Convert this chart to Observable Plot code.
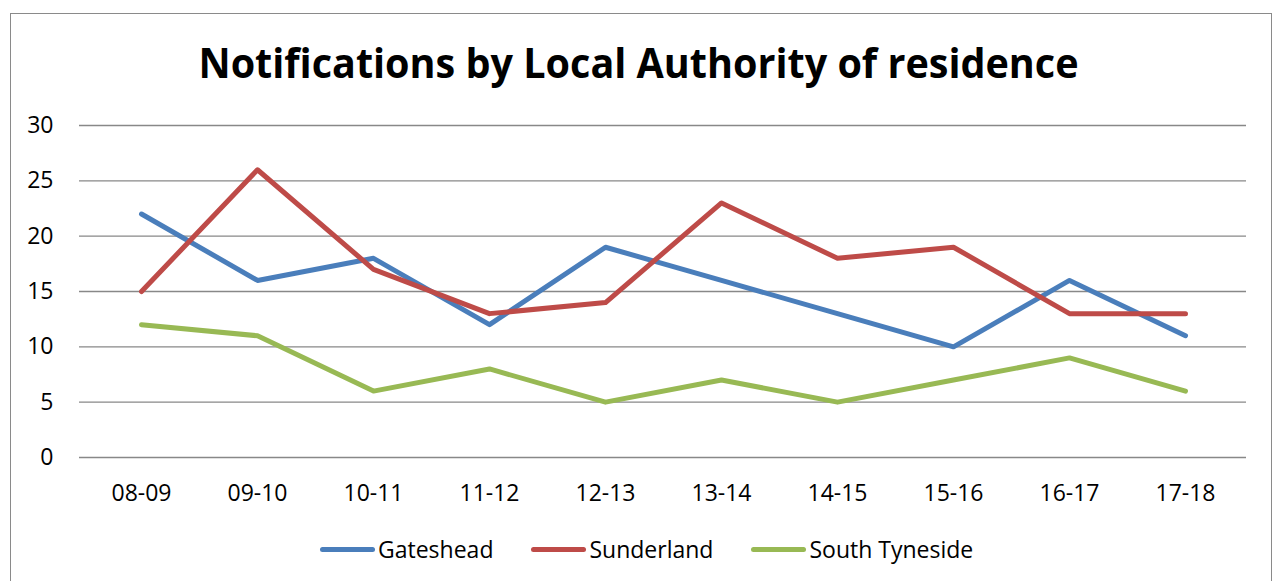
<!DOCTYPE html>
<html>
<head>
<meta charset="utf-8">
<script src="https://cdn.jsdelivr.net/npm/d3@7"></script>
<script src="https://cdn.jsdelivr.net/npm/@observablehq/plot@0.6"></script>
<style>
  html, body { margin: 0; padding: 0; background: #fff; overflow: hidden; }
  #wrap { position: relative; width: 1276px; height: 581px; font-family: "Open Sans", sans-serif; }
  #frame { position: absolute; left: 10px; top: 13px; width: 1262px; height: 620px; border: 1.5px solid #8a8a8a; box-sizing: border-box; }
  #chart { position: absolute; left: 0; top: 0; }
  #title { position: absolute; left: 0; width: 1276px; top: 41px; text-align: center; font-weight: 700; font-size: 42px; line-height: 1; color: #000; white-space: nowrap; }
  #title span { display: inline-block; transform-origin: center; }
  #legend { position: absolute; left: 320px; top: 533px; display: flex; align-items: center; font-size: 23px; color: #000; }
  .item { display: flex; align-items: center; margin-right: 38px; }
  .sw { width: 55px; height: 5px; border-radius: 3px; margin-right: 3px; }
</style>
</head>
<body>
<div id="wrap">
  <div id="frame"></div>
  <div id="chart"></div>
  <div id="title"><span>Notifications by Local Authority of residence</span></div>
  <div id="legend"></div>
</div>
<script>
const periods = ["08-09","09-10","10-11","11-12","12-13","13-14","14-15","15-16","16-17","17-18"];
const seriesNames = ["Gateshead","Sunderland","South Tyneside"];
const gateshead = [22,16,18,12,19,16,13,10,16,11];
const sunderland = [15,26,17,13,14,23,18,19,13,13];
const southTyneside = [12,11,6,8,5,7,5,7,9,6];
const yTicks = [0,5,10,15,20,25,30];
const colors = ["#4a7ebb","#be4b48","#98b954"];

const valuesBySeries = [gateshead, sunderland, southTyneside];
const data = [];
seriesNames.forEach((s, si) => {
  periods.forEach((p, i) => data.push({series: s, period: p, value: valuesBySeries[si][i]}));
});

const W = 1276, H = 530;
const chart = Plot.plot({
  width: W,
  height: H,
  marginTop: 125,
  marginBottom: H - 457,
  marginLeft: 79,
  marginRight: 30,
  style: {fontFamily: "Open Sans, sans-serif", fontSize: "23px", color: "#000", background: "transparent", overflow: "visible"},
  x: {type: "point", domain: periods, padding: 0.5},
  y: {domain: [0, 30]},
  color: {domain: seriesNames, range: colors},
  marks: [
    Plot.ruleY(yTicks, {stroke: "#888", strokeWidth: 1.4, strokeOpacity: 1}),
    Plot.axisY({ticks: yTicks, tickSize: 0, tickPadding: 26, label: null, fontSize: 23}),
    Plot.axisX({tickSize: 0, tickPadding: 27, label: null, fontSize: 23}),
    Plot.line(data, {x: "period", y: "value", stroke: "series", z: "series", strokeWidth: 5, strokeLinecap: "round", strokeLinejoin: "round"})
  ]
});
document.getElementById("chart").appendChild(chart);

const legend = document.getElementById("legend");
seriesNames.forEach((s, i) => {
  const it = document.createElement("div");
  it.className = "item";
  const sw = document.createElement("div");
  sw.className = "sw";
  sw.style.background = colors[i];
  const t = document.createElement("span");
  t.textContent = s;
  it.appendChild(sw); it.appendChild(t);
  legend.appendChild(it);
});

// fit title width to the reference's narrower face
const span = document.querySelector("#title span");
const w = span.getBoundingClientRect().width;
span.style.transform = `scaleX(${880 / w})`;
</script>
</body>
</html>
